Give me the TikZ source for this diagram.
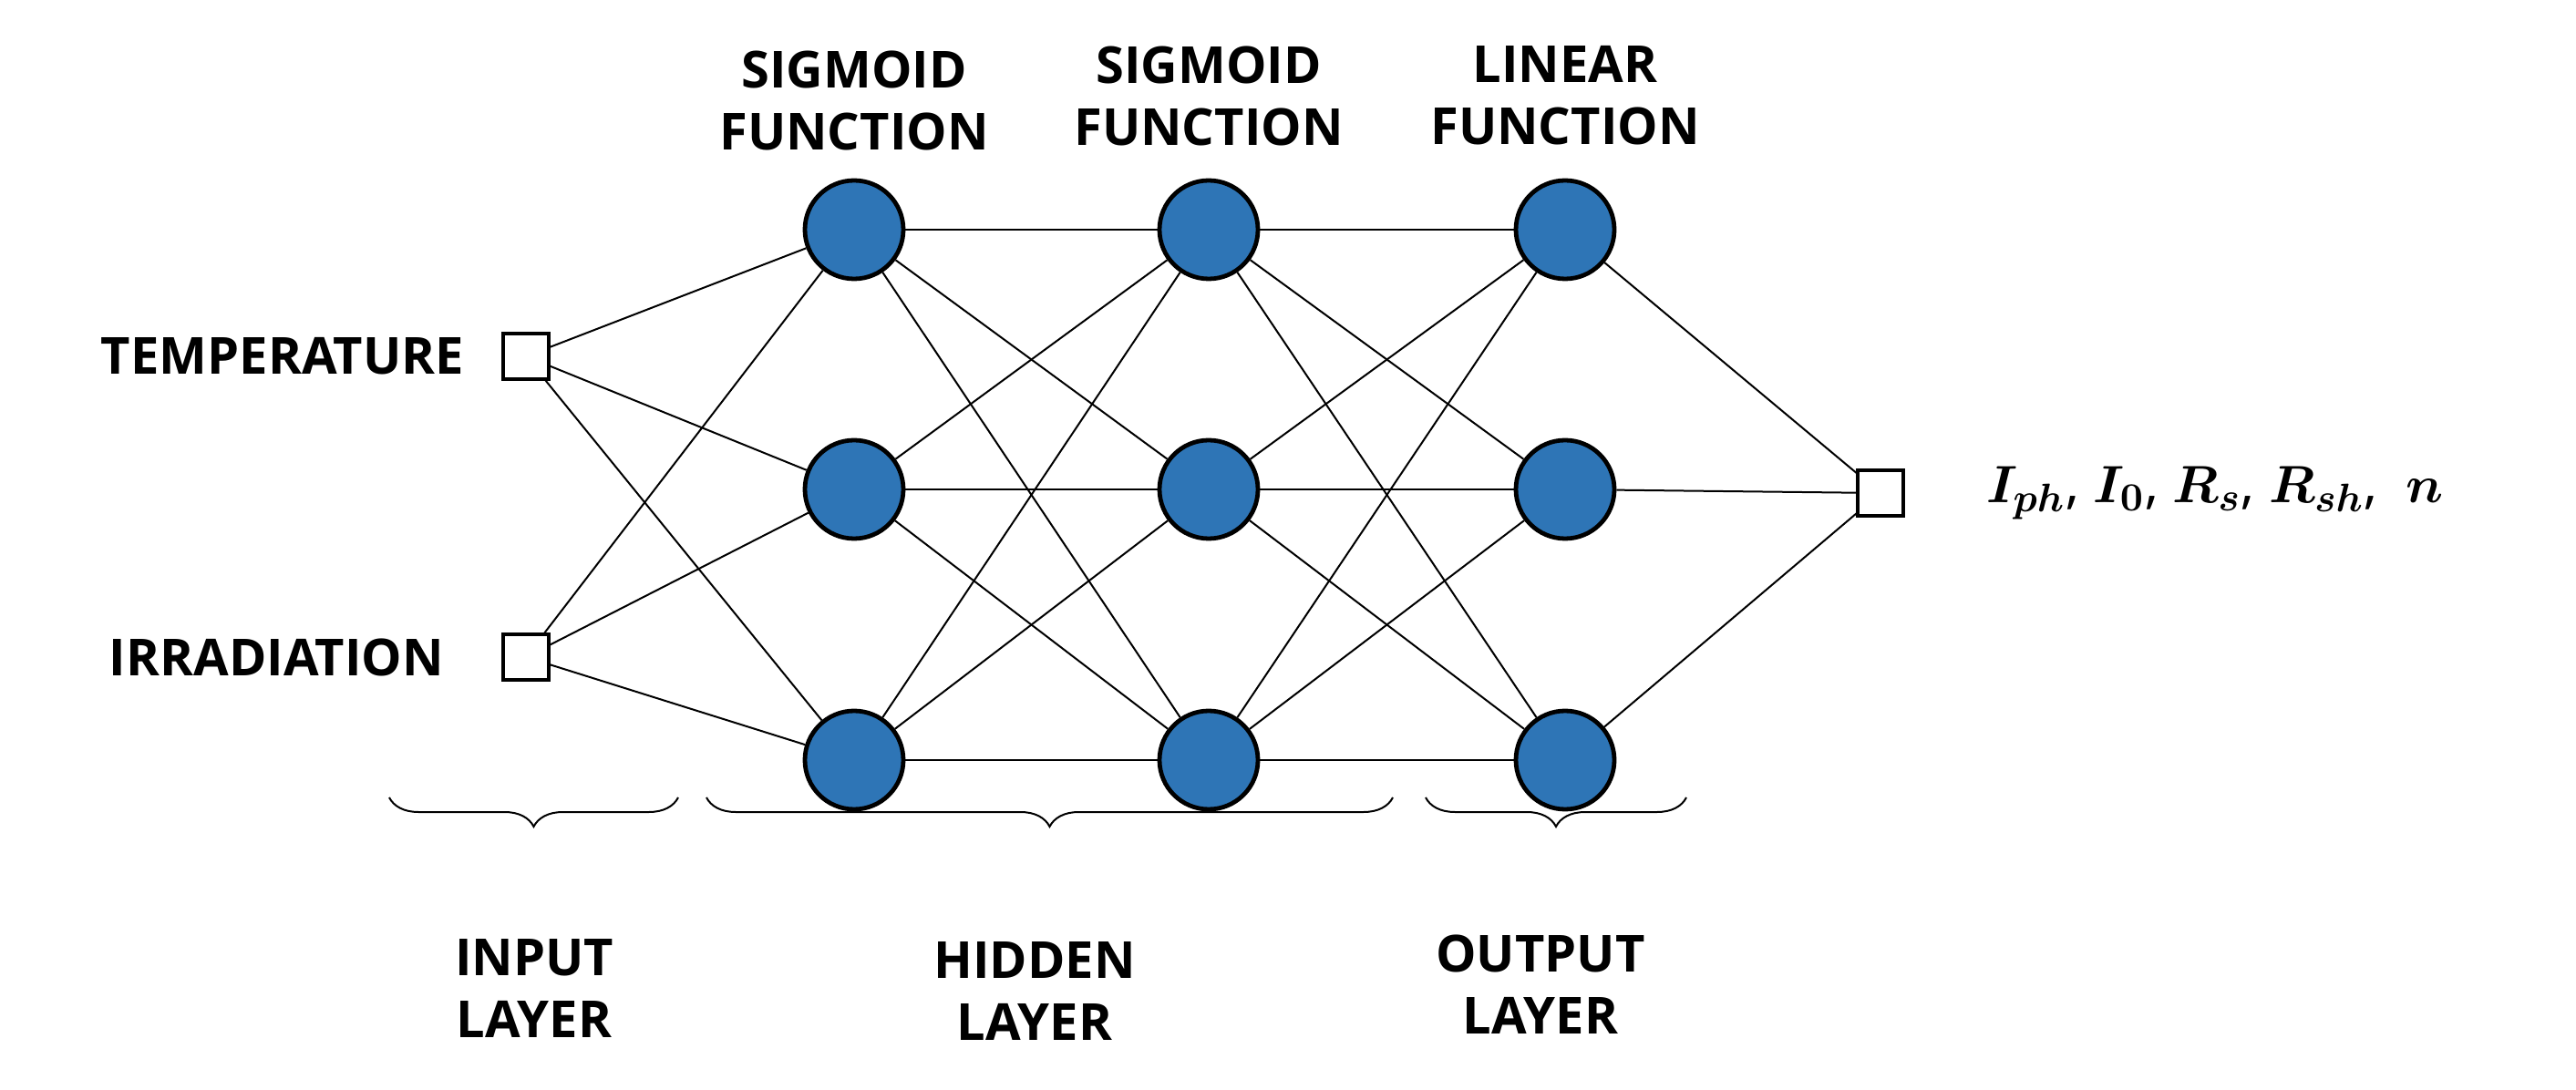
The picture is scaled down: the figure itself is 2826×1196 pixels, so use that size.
\documentclass[tikz,border=0pt]{standalone}
\usepackage{amsmath}
\usepackage{fontspec}
\setmainfont{Open Sans}
\usetikzlibrary{decorations.pathreplacing}
\definecolor{nblue}{HTML}{2E75B6}
\begin{document}
\begin{tikzpicture}[x=0.25pt,y=0.25pt,
  neuron/.style={circle,draw=black,line width=1.2pt,fill=nblue,minimum size=27pt,inner sep=0pt},
  port/.style={rectangle,draw=black,line width=0.8pt,fill=white,minimum size=12.5pt,inner sep=0pt},
  lbl/.style={font=\bfseries\fontsize{14}{17}\selectfont,align=center},
  edge/.style={line width=0.5pt},
  br/.style={decorate,decoration={brace,mirror,amplitude=8pt},line width=0.5pt}]
\useasboundingbox (0,0) rectangle (2826,-1196);
\node[port] (i1) at (577,-391) {};
\node[port] (i2) at (577,-721) {};
\foreach \n/\x in {a/937,b/1326,c/1717}{
  \node[neuron] (\n1) at (\x,-252) {};
  \node[neuron] (\n2) at (\x,-537) {};
  \node[neuron] (\n3) at (\x,-834) {};
}
\node[port] (o) at (2063,-541) {};
\foreach \s in {i1,i2}{\foreach \t in {a1,a2,a3}{\draw[edge] (\s) -- (\t);}}
\foreach \s in {1,2,3}{\foreach \t in {1,2,3}{
  \draw[edge] (a\s) -- (b\t);
  \draw[edge] (b\s) -- (c\t);}}
\foreach \s in {c1,c2,c3}{\draw[edge] (\s) -- (o);}
\node[lbl,anchor=east] (tl) at (523,-391) {TEMPERATURE};
\node[lbl,anchor=east] (il) at (501,-721) {IRRADIATION};
\node[lbl] (f1) at (937,-110) {SIGMOID\\FUNCTION};
\node[lbl] (f2) at (1326,-105) {SIGMOID\\FUNCTION};
\node[lbl] (f3) at (1717,-105) {LINEAR\\FUNCTION};
\node[anchor=west,font=\fontsize{15}{18}\selectfont] (out) at (2165,-541)
  {$\boldsymbol{I_{ph}}$, $\boldsymbol{I_0}$, $\boldsymbol{R_s}$, $\boldsymbol{R_{sh}}$,\ \ $\boldsymbol{n}$};
\draw[br] (427,-875) -- (744,-875);
\draw[br] (775,-875) -- (1528,-875);
\draw[br] (1564,-875) -- (1850,-875);
\node[lbl] (l1) at (586,-1085) {INPUT\\LAYER};
\node[lbl] (l2) at (1135,-1088) {HIDDEN\\LAYER};
\node[lbl] (l3) at (1690,-1080) {OUTPUT\\LAYER};
\end{tikzpicture}
\end{document}
